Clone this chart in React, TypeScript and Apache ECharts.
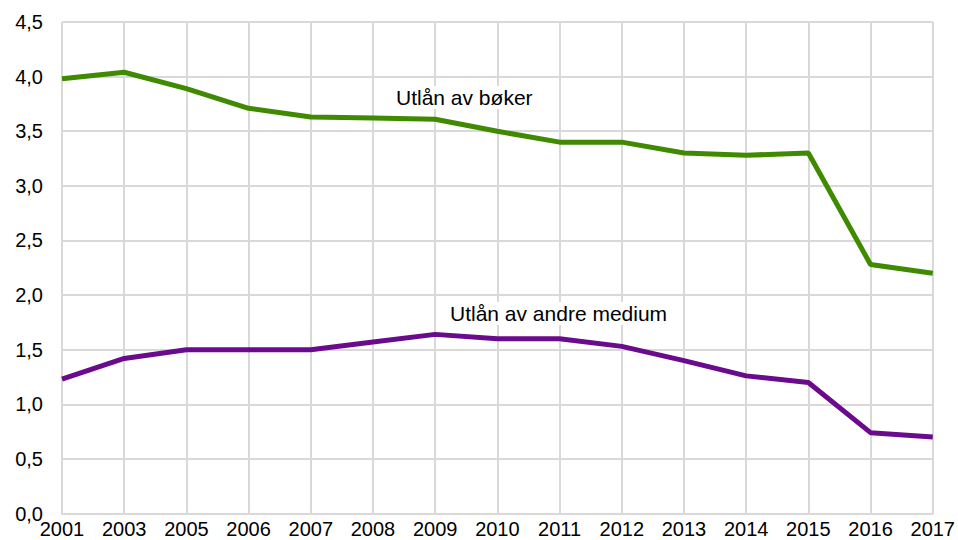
import React, { useEffect, useRef } from "react";
import * as echarts from "echarts";

const years = ["2001", "2003", "2005", "2006", "2007", "2008", "2009", "2010", "2011", "2012", "2013", "2014", "2015", "2016", "2017"];
const booksLoans = [3.98, 4.04, 3.89, 3.71, 3.63, 3.62, 3.61, 3.5, 3.4, 3.4, 3.3, 3.28, 3.3, 2.28, 2.2];
const otherMediaLoans = [1.23, 1.42, 1.5, 1.5, 1.5, 1.57, 1.64, 1.6, 1.6, 1.53, 1.4, 1.26, 1.2, 0.74, 0.7];
const seriesNames = ["Utlån av bøker", "Utlån av andre medium"];

const FONT = "'Liberation Sans', Arial, sans-serif";

export default function App() {
  const ref = useRef<HTMLDivElement>(null);
  useEffect(() => {
    if (!ref.current) return;
    const chart = echarts.init(ref.current, undefined, { renderer: "svg" });
    chart.setOption({
      animation: false,
      backgroundColor: "#ffffff",
      grid: { left: 62, right: 23, top: 22, bottom: 26.5, containLabel: false },
      xAxis: {
        type: "category",
        data: years,
        boundaryGap: false,
        axisLine: { show: true, lineStyle: { color: "#d9d9d9", width: 2 } },
        axisTick: { show: false },
        splitLine: { show: true, lineStyle: { color: "#d9d9d9", width: 2 } },
        axisLabel: { color: "#000", fontSize: 20, fontFamily: FONT, margin: 5, interval: 0 },
      },
      yAxis: {
        type: "value",
        min: 0,
        max: 4.5,
        interval: 0.5,
        axisLine: { show: false },
        axisTick: { show: false },
        splitLine: { show: true, lineStyle: { color: "#d9d9d9", width: 2 } },
        axisLabel: {
          color: "#000",
          fontSize: 20,
          fontFamily: FONT,
          margin: 19,
          formatter: (v: number) => v.toFixed(1).replace(".", ","),
        },
      },
      series: [
        {
          name: seriesNames[0],
          type: "line",
          data: booksLoans,
          symbol: "none",
          lineStyle: { color: "#3f8a00", width: 5 },
          z: 3,
        },
        {
          name: seriesNames[1],
          type: "line",
          data: otherMediaLoans,
          symbol: "none",
          lineStyle: { color: "#6a0a8c", width: 5 },
          z: 3,
        },
      ],
      graphic: [
        {
          type: "text",
          left: 393,
          top: 86,
          z: 10,
          style: {
            text: seriesNames[0],
            fontSize: 21,
            fontFamily: FONT,
            fill: "#000",
            backgroundColor: "#fff",
            padding: [1, 3],
          },
        },
        {
          type: "text",
          left: 447,
          top: 302,
          z: 10,
          style: {
            text: seriesNames[1],
            fontSize: 21,
            fontFamily: FONT,
            fill: "#000",
            backgroundColor: "#fff",
            padding: [1, 3],
          },
        },
      ],
    });
    return () => chart.dispose();
  }, []);
  return <div ref={ref} style={{ width: 958, height: 540, position: "absolute", left: 0, top: 0 }} />;
}
